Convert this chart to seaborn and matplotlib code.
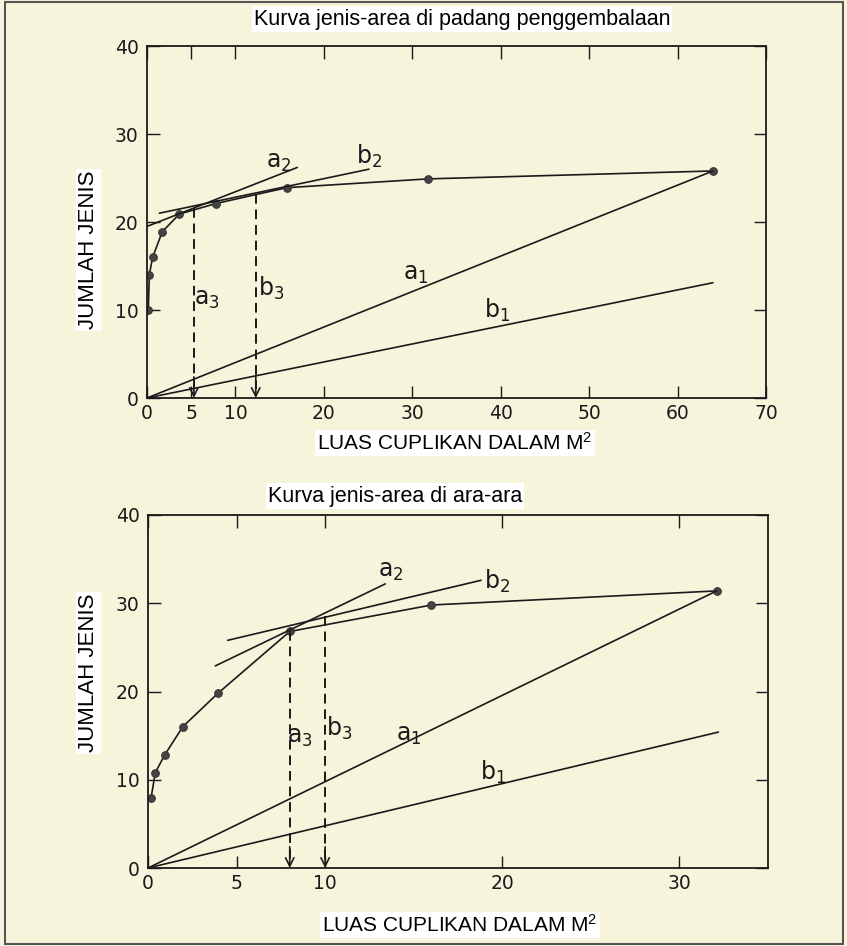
import matplotlib
matplotlib.use("Agg")
import matplotlib.pyplot as plt
import seaborn as sns
import pandas as pd
from matplotlib.patches import Rectangle

# ---------------- data ----------------
# Top panel: padang penggembalaan
top_area = [0.15, 0.26, 0.64, 1.73, 3.66, 7.8, 15.8, 31.8, 64.0]
top_species = [10.0, 14.0, 16.0, 18.9, 20.9, 22.1, 23.9, 24.9, 25.8]
top_a1_x = [0, 64.0]
top_a1_y = [0, 25.8]
top_b1_x = [0, 64.0]
top_b1_y = [0, 13.1]
top_a2_x = [0, 17.0]
top_a2_y = [19.5, 26.2]
top_b2_x = [1.4, 25.1]
top_b2_y = [21.0, 26.0]
top_a3 = (5.3, 21.6)
top_b3 = (12.3, 23.2)
top_xticks = [0, 5, 10, 20, 30, 40, 50, 60, 70]
top_yticks = [0, 10, 20, 30, 40]

# Bottom panel: ara-ara
bot_area = [0.17, 0.41, 0.94, 1.96, 3.95, 8.0, 16.0, 32.1]
bot_species = [7.9, 10.8, 12.8, 16.0, 19.8, 26.8, 29.8, 31.4]
bot_a1_x = [0, 32.1]
bot_a1_y = [0, 31.4]
bot_b1_x = [0, 32.2]
bot_b1_y = [0, 15.4]
bot_a2_x = [3.8, 13.4]
bot_a2_y = [22.9, 32.2]
bot_b2_x = [4.5, 18.8]
bot_b2_y = [25.8, 32.6]
bot_a3 = (8.0, 26.8)
bot_b3 = (10.0, 28.5)
bot_xticks = [0, 5, 10, 20, 30]
bot_yticks = [0, 10, 20, 30, 40]

top_labels = {"a_1": (30.4, 14.1), "b_1": (39.6, 10.0), "a_2": (14.9, 26.8),
              "b_2": (25.1, 27.4), "a_3": (6.8, 11.3), "b_3": (14.0, 12.5)}
bot_labels = {"a_1": (14.7, 15.1), "b_1": (19.5, 10.8), "a_2": (13.7, 33.7),
              "b_2": (19.7, 32.5), "a_3": (8.6, 14.9), "b_3": (10.8, 15.8)}

title_top = "Kurva jenis-area di padang penggembalaan"
title_bot = "Kurva jenis-area di ara-ara"
xlabel = "LUAS CUPLIKAN DALAM M$^{2}$"
ylabel = "JUMLAH JENIS"

# ---------------- style ----------------
sns.set_theme(style="ticks")
plt.rcParams["font.family"] = ["DejaVu Sans"]
plt.rcParams["mathtext.default"] = "regular"
BG = "#f7f4dc"
INK = "#1a1a1a"

W, H = 847, 946
fig = plt.figure(figsize=(W / 100, H / 100), dpi=100, facecolor=BG)

ax1 = fig.add_axes([147 / W, 1 - 398 / H, 619 / W, 352 / H])
ax2 = fig.add_axes([148 / W, 1 - 868 / H, 620 / W, 353 / H])

label_font = dict(family=["Liberation Sans", "DejaVu Sans"])


def draw_panel(ax, area, species, a1, b1, a2, b2, a3, b3, labels, xticks, yticks, xmax):
    ax.set_facecolor("none")
    df = pd.DataFrame({"area": area, "species": species})
    sns.lineplot(data=df, x="area", y="species", ax=ax, color=INK, lw=1.2,
                 marker="o", markersize=5.5, markeredgecolor="#333333",
                 markerfacecolor="#444444", sort=True, estimator=None)
    for (xs, ys) in (a1, b1, a2, b2):
        sns.lineplot(x=xs, y=ys, ax=ax, color=INK, lw=1.2, estimator=None)
    for (xv, yv) in (a3, b3):
        ax.plot([xv, xv], [yv, 1.0], ls=(0, (5, 3)), color=INK, lw=1.4)
        ax.annotate("", xy=(xv, 0), xytext=(xv, 2.4),
                    arrowprops=dict(arrowstyle="->", color=INK, lw=1.2,
                                    mutation_scale=15, shrinkA=0, shrinkB=0))
    for key, (lx, ly) in labels.items():
        ax.text(lx, ly, f"${key}$", fontsize=17, ha="center", va="center",
                color=INK)
    ax.set_xlim(0, xmax)
    ax.set_ylim(0, 40)
    ax.set_xticks(xticks)
    ax.set_yticks(yticks)
    ax.tick_params(direction="in", top=True, right=True, length=9, width=1,
                   labelsize=13.5, colors=INK, pad=4)
    ax.tick_params(axis="y", pad=6)
    for s in ax.spines.values():
        s.set_color(INK)
        s.set_linewidth(1.3)
    ax.set_xlabel("")
    ax.set_ylabel("")


draw_panel(ax1, top_area, top_species, (top_a1_x, top_a1_y), (top_b1_x, top_b1_y),
           (top_a2_x, top_a2_y), (top_b2_x, top_b2_y), top_a3, top_b3,
           top_labels, top_xticks, top_yticks, 70)
draw_panel(ax2, bot_area, bot_species, (bot_a1_x, bot_a1_y), (bot_b1_x, bot_b1_y),
           (bot_a2_x, bot_a2_y), (bot_b2_x, bot_b2_y), bot_a3, bot_b3,
           bot_labels, bot_xticks, bot_yticks, 35)

box = dict(facecolor="white", edgecolor="none", pad=1.5)
fig.text(462 / W, 1 - 19 / H, title_top, ha="center", va="center", fontsize=15.5,
         color="black", bbox=box, **label_font)
fig.text(395 / W, 1 - 496 / H, title_bot, ha="center", va="center", fontsize=15.5,
         color="black", bbox=box, **label_font)
fig.text(455 / W, 1 - 443 / H, xlabel, ha="center", va="center", fontsize=15,
         color="black", bbox=box, **label_font)
fig.text(460 / W, 1 - 925 / H, xlabel, ha="center", va="center", fontsize=15,
         color="black", bbox=box, **label_font)
fig.text(88 / W, 1 - 250 / H, ylabel, ha="center", va="center", fontsize=16,
         rotation=90, color="black", bbox=box, **label_font)
fig.text(88 / W, 1 - 673 / H, ylabel, ha="center", va="center", fontsize=16,
         rotation=90, color="black", bbox=box, **label_font)

fig.patches.append(Rectangle((5 / W, 2 / H), 838 / W, 942 / H, transform=fig.transFigure,
                             fill=False, edgecolor="#555555", lw=1.5))

fig.savefig("out.png", dpi=100, facecolor=BG)
